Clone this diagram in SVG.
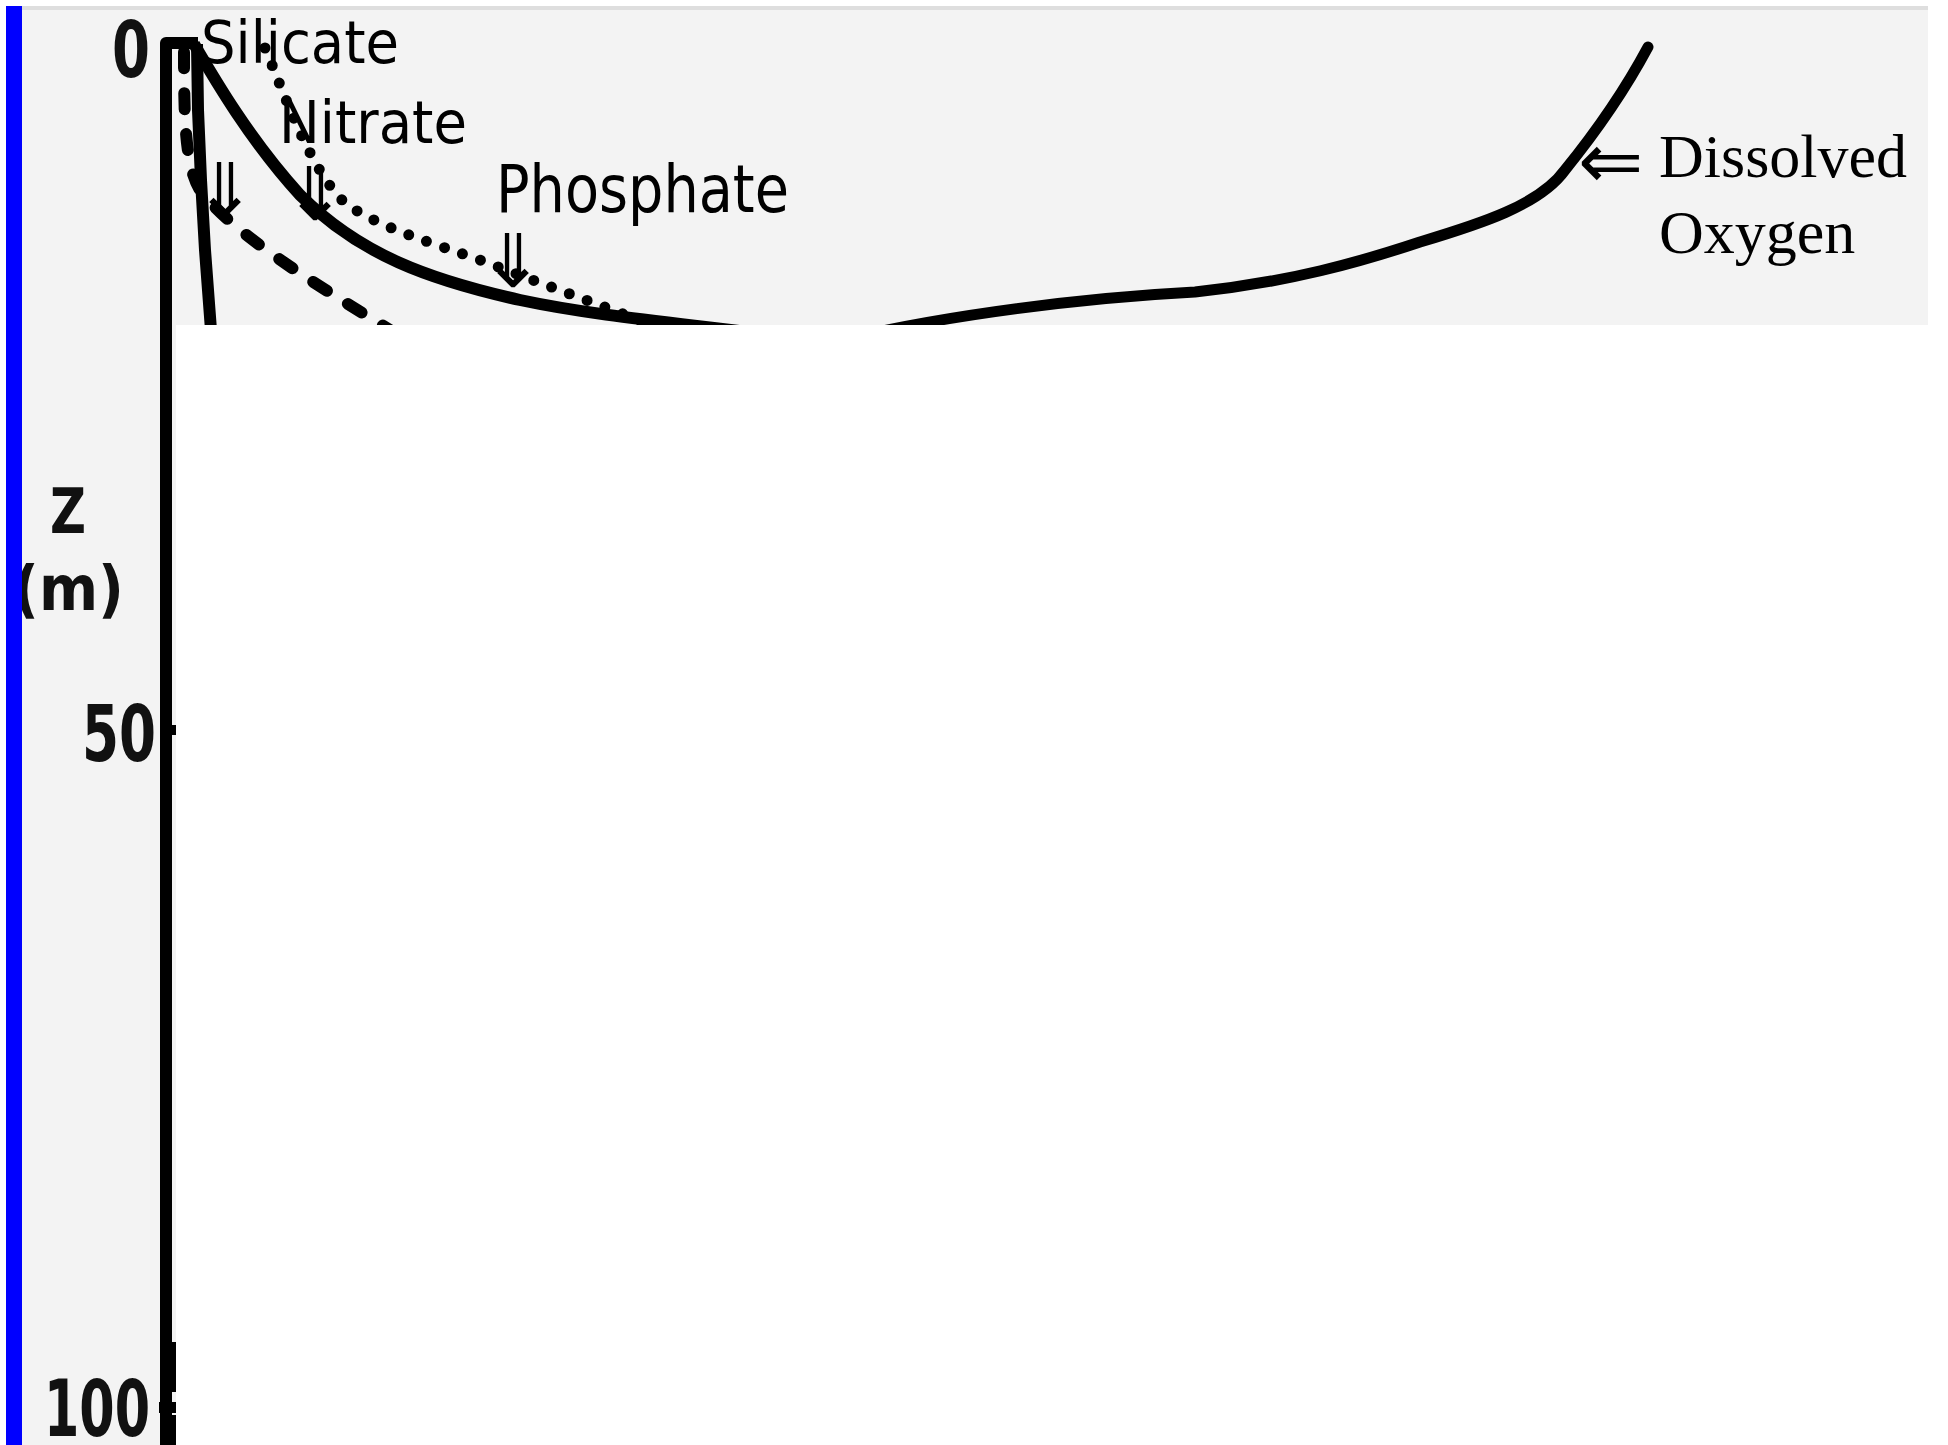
<svg xmlns="http://www.w3.org/2000/svg" width="1948" height="1445" viewBox="0 0 1948 1445">
<style>
.ink{fill:none;stroke:#000;stroke-linejoin:round}
.num{font-family:"DejaVu Sans",sans-serif;font-weight:bold;fill:#111}
.lab{font-family:"DejaVu Sans","Liberation Sans",sans-serif;fill:#000}
.serif{font-family:"Liberation Serif","DejaVu Serif",serif;fill:#000}
.arr{font-family:"DejaVu Sans",sans-serif;fill:#000}
</style>
<rect x="0" y="0" width="1948" height="1445" fill="#fff"/>
<g id="scan">
<rect x="22" y="6" width="1906" height="1439" fill="#f3f3f3"/>
<rect x="22" y="6" width="1906" height="4" fill="#dedede"/>
</g>
<g id="axis">
<path class="ink" d="M166,1445 L166,43 L198,43" stroke-width="12" stroke-linejoin="miter"/>
<rect x="165" y="725" width="12" height="10" fill="#000"/>
<rect x="159" y="1402" width="18" height="11" fill="#000"/>
<rect x="170" y="1342" width="7" height="50" fill="#000"/>
<rect x="170" y="1415" width="7" height="30" fill="#000"/>
<text class="num" x="112" y="77" font-size="78" textLength="38" lengthAdjust="spacingAndGlyphs">0</text>
<text class="num" x="82" y="761" font-size="78" textLength="74" lengthAdjust="spacingAndGlyphs">50</text>
<text class="num" x="44" y="1436" font-size="78" textLength="106" lengthAdjust="spacingAndGlyphs">100</text>
<text class="num" x="50" y="533" font-size="62" fill="#000" textLength="36" lengthAdjust="spacingAndGlyphs">Z</text>
<text class="num" x="13" y="610" font-size="62" fill="#000" textLength="111" lengthAdjust="spacingAndGlyphs">(m)</text>
</g>
<g id="curves">
<path id="curve-a" class="ink" d="M197,44 L198,110 L201,180 L205,250 L211,330" stroke-width="12"/>
<path id="curve-silicate" class="ink" d="M184,52 C184,120 185,165 200,190 C230,230 300,275 390,330" stroke-width="12" stroke-dasharray="16 25" stroke-linecap="round"/>
<path id="curve-nitrate" class="ink" d="M194,44 C215,80 250,140 300,195 C360,255 430,280 520,300 C600,317 690,324 780,336" stroke-width="12"/>
<path id="curve-phosphate" class="ink" d="M265,48 C285,95 310,170 345,203 C380,228 430,242 480,260 C540,283 600,305 660,328" stroke-width="11" stroke-dasharray="0 19" stroke-linecap="round"/>
<path id="curve-oxygen" class="ink" d="M850,338 C950,315 1080,298 1195,292 C1290,282 1360,262 1420,242 C1480,224 1540,205 1565,170 C1595,133 1625,90 1648,47" stroke-width="11" stroke-linecap="round"/>
</g>
<rect id="mask" x="176" y="325" width="1772" height="1120" fill="#fff"/>
<rect id="blue-bar" x="6" y="6" width="16" height="1439" fill="#0000ff"/>
<g id="labels">
<text class="lab" x="201" y="63" font-size="58" textLength="198" lengthAdjust="spacingAndGlyphs">Silicate</text>
<text class="lab" x="279" y="143" font-size="58" textLength="188" lengthAdjust="spacingAndGlyphs">Nitrate</text>
<text class="lab" x="496" y="212" font-size="65" textLength="293" lengthAdjust="spacingAndGlyphs">Phosphate</text>
<text class="arr" x="194" y="216" font-size="74">⇓</text>
<text class="arr" x="284" y="220" font-size="74">⇓</text>
<text class="arr" x="482" y="287" font-size="74">⇓</text>
<text class="serif" font-size="62"><tspan class="arr" x="1578" y="188" font-size="78">⇐</tspan> <tspan x="1659" y="177">Dissolved</tspan></text>
<text class="serif" x="1659" y="253" font-size="62">Oxygen</text>
</g>
</svg>
